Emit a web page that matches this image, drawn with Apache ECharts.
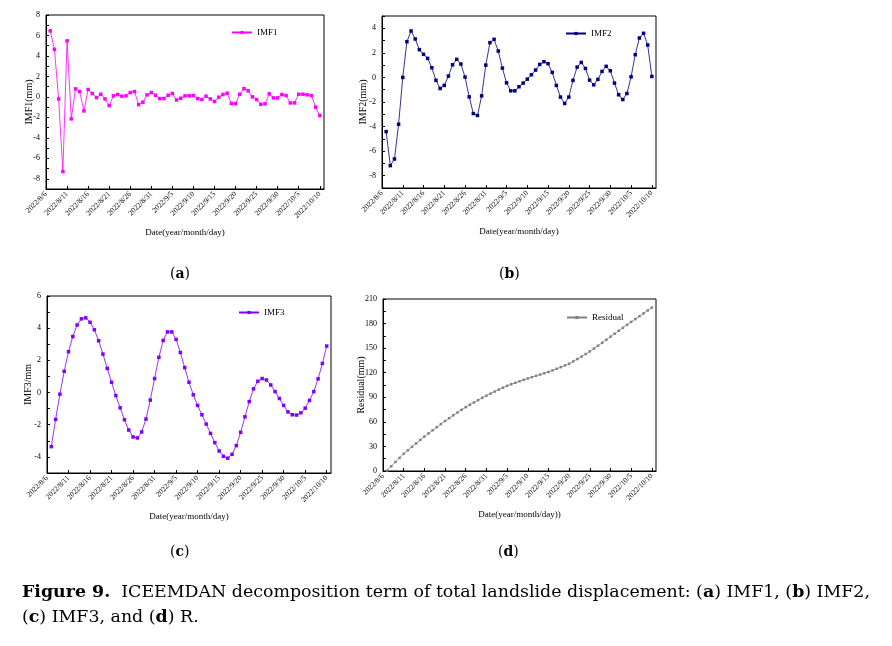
<!DOCTYPE html>
<html>
<head>
<meta charset="utf-8">
<script src="https://cdn.jsdelivr.net/npm/echarts@6/dist/echarts.min.js"></script>
<style>
  html, body { margin: 0; padding: 0; background: #fff; }
  #chart { width: 892px; height: 646px; }
</style>
</head>
<body>
<div id="chart"></div>
<script>
// axis runs 2022/8/6 .. 2022/10/11, observations 2022/8/7 .. 2022/10/10
const dates = []
for (let d = new Date(2022, 7, 6); d <= new Date(2022, 9, 11); d.setDate(d.getDate() + 1)) {
  dates.push(d.getFullYear() + '/' + (d.getMonth() + 1) + '/' + d.getDate())
}
const obsDates = dates.slice(1, 66)

const imf1 = [6.45, 4.65, -0.2, -7.3, 5.47, -2.15, 0.78, 0.52, -1.37, 0.72,
  0.33, -0.07, 0.26, -0.2, -0.85, 0.1, 0.23, 0.07, 0.1, 0.42,
  0.52, -0.75, -0.52, 0.2, 0.42, 0.16, -0.16, -0.16, 0.16, 0.33,
  -0.3, -0.13, 0.1, 0.1, 0.13, -0.16, -0.26, 0.07, -0.2, -0.45,
  -0.03, 0.23, 0.36, -0.65, -0.65, 0.26, 0.81, 0.59, 0, -0.26,
  -0.72, -0.68, 0.29, -0.1, -0.1, 0.23, 0.13, -0.59, -0.59, 0.26,
  0.26, 0.2, 0.13, -1.0, -1.82]

const imf2 = [-4.41, -7.18, -6.64, -3.81, 0, 2.91, 3.78, 3.13, 2.26, 1.88,
  1.55, 0.79, -0.24, -0.9, -0.65, 0.11, 1.03, 1.47, 1.09, 0.03,
  -1.58, -2.94, -3.1, -1.5, 1.0, 2.83, 3.1, 2.15, 0.76, -0.44,
  -1.09, -1.09, -0.76, -0.46, -0.14, 0.22, 0.6, 1.06, 1.28, 1.12,
  0.41, -0.65, -1.6, -2.12, -1.6, -0.24, 0.84, 1.22, 0.73, -0.22,
  -0.6, -0.16, 0.49, 0.9, 0.54, -0.46, -1.41, -1.8, -1.31, 0.05,
  1.85, 3.21, 3.59, 2.64, 0.08]

const imf3 = [-3.36, -1.67, -0.1, 1.32, 2.54, 3.48, 4.2, 4.58, 4.64, 4.37,
  3.9, 3.22, 2.39, 1.5, 0.64, -0.19, -0.95, -1.69, -2.33, -2.76,
  -2.82, -2.45, -1.65, -0.47, 0.87, 2.19, 3.24, 3.77, 3.77, 3.3,
  2.49, 1.55, 0.64, -0.14, -0.8, -1.38, -1.96, -2.54, -3.11, -3.63,
  -3.96, -4.08, -3.84, -3.3, -2.47, -1.51, -0.56, 0.23, 0.7, 0.87,
  0.78, 0.47, 0.06, -0.37, -0.8, -1.2, -1.38, -1.4, -1.26, -0.97,
  -0.49, 0.06, 0.85, 1.81, 2.89]

const residual = [0.5, 5.8, 11, 16, 21, 25.3, 29.5, 33.7, 37.9, 42,
  45.9, 49.7, 53.5, 57.3, 61, 64.5, 68, 71.4, 74.7, 78,
  80.9, 83.7, 86.5, 89.3, 92, 94.5, 97, 99.4, 101.7, 104,
  105.9, 107.7, 109.5, 111.3, 113, 114.6, 116.2, 117.8, 119.4, 121,
  122.9, 124.8, 126.8, 128.9, 131, 133.8, 136.7, 139.7, 142.8, 146,
  149.5, 153, 156.6, 160.3, 164, 167.6, 171.2, 174.8, 178.4, 182,
  185.5, 189, 192.5, 196, 199.5]

const FONT = 'Liberation Serif'
const CAP_FONT = 'DejaVu Serif'

const panels = [
  { name: 'IMF1', yName: 'IMF1(mm)', xName: 'Date(year/month/day)', values: imf1, color: '#ff00ff',
    min: -9, max: 8, step: 1, every: 2, size: 3.5, nameGap: 12,
    grid: { left: 46, top: 15, width: 278, height: 174 }, legend: { left: 226, top: 23 } },
  { name: 'IMF2', yName: 'IMF2(mm)', xName: 'Date(year/month/day)', values: imf2, color: '#000080',
    min: -9, max: 5, step: 1, every: 2, size: 3.5, nameGap: 14,
    grid: { left: 382, top: 16, width: 274, height: 172 }, legend: { left: 560, top: 24 } },
  { name: 'IMF3', yName: 'IMF3/mm', xName: 'Date(year/month/day)', values: imf3, color: '#8000ff',
    min: -5, max: 6, step: 1, every: 2, size: 3.5, nameGap: 14,
    grid: { left: 47, top: 296, width: 284, height: 177 }, legend: { left: 233, top: 303 } },
  { name: 'Residual', yName: 'Residual(mm)', xName: 'Date(year/month/day))', values: residual, color: '#808080',
    min: 0, max: 210, step: 15, every: 30, size: 2.5, nameGap: 17,
    grid: { left: 383, top: 299, width: 273, height: 172 }, legend: { left: 561, top: 308 } }
]

const showTick = (idx) => idx % 5 === 0 && idx <= 65

const capRich = {
  n: { fontFamily: CAP_FONT, fontSize: 17.4, fontWeight: 'normal', color: '#000' },
  b: { fontFamily: CAP_FONT, fontSize: 17.4, fontWeight: 'bold', color: '#000' }
}
const tagRich = {
  p: { fontFamily: CAP_FONT, fontSize: 14, fontWeight: 'normal', color: '#000' },
  b: { fontFamily: CAP_FONT, fontSize: 14, fontWeight: 'bold', color: '#000' }
}

const chart = echarts.init(document.getElementById('chart'))

const option = {
  animation: false,
  backgroundColor: '#fff',
  textStyle: { fontFamily: FONT, color: '#000' },
  grid: panels.map(p => Object.assign({ show: true, borderColor: '#000', borderWidth: 1 }, p.grid)),
  xAxis: panels.map((p, i) => ({
    gridIndex: i,
    type: 'category',
    data: dates,
    boundaryGap: false,
    axisLine: { onZero: false, lineStyle: { color: '#000', width: 1 } },
    axisTick: { inside: true, length: 3, interval: showTick, lineStyle: { color: '#000' } },
    axisLabel: { interval: showTick, rotate: 45, margin: 4, fontFamily: FONT, fontSize: 7.5, color: '#000' },
    splitLine: { show: false },
    name: p.xName,
    nameLocation: 'middle',
    nameGap: 39,
    nameMoveOverlap: false,
    nameTextStyle: { fontFamily: FONT, fontSize: 9, color: '#000' }
  })),
  yAxis: panels.map((p, i) => ({
    gridIndex: i,
    type: 'value',
    min: p.min,
    max: p.max,
    interval: p.step,
    axisLine: { show: true, onZero: false, lineStyle: { color: '#000', width: 1 } },
    axisTick: { show: true, inside: true, length: 3, lineStyle: { color: '#000' } },
    axisLabel: {
      formatter: v => (v % p.every === 0 ? String(v) : ''),
      margin: 6, fontFamily: FONT, fontSize: 8, color: '#000'
    },
    splitLine: { show: false },
    name: p.yName,
    nameLocation: 'middle',
    nameGap: p.nameGap,
    nameMoveOverlap: false,
    nameTextStyle: { fontFamily: FONT, fontSize: 10, color: '#000' }
  })),
  legend: panels.map(p => ({
    left: p.legend.left,
    top: p.legend.top,
    data: [p.name],
    itemWidth: 20,
    itemHeight: 4,
    textStyle: { fontFamily: FONT, fontSize: 9, color: '#000' }
  })),
  series: panels.map((p, i) => ({
    name: p.name,
    type: 'line',
    xAxisIndex: i,
    yAxisIndex: i,
    data: p.values.map((v, k) => [obsDates[k], v]),
    symbol: 'rect',
    symbolSize: p.size,
    showSymbol: true,
    showAllSymbol: true,
    lineStyle: { color: p.color, width: 0.8 },
    itemStyle: { color: p.color }
  })),
  title: [
    ['a', 165, 262], ['b', 494, 262], ['c', 165, 540], ['d', 493, 540]
  ].map(t => ({
    text: '{p|(}{b|' + t[0] + '}{p|)}',
    left: t[1],
    top: t[2],
    textStyle: { fontWeight: 'normal', rich: tagRich }
  })).concat([
    {
      text: '{b|Figure 9.}{n|  ICEEMDAN decomposition term of total landslide displacement: (}{b|a}{n|) IMF1, (}{b|b}{n|) IMF2,}',
      left: 17, top: 579,
      textStyle: { fontWeight: 'normal', rich: capRich }
    },
    {
      text: '{n|(}{b|c}{n|) IMF3, and (}{b|d}{n|) R.}',
      left: 17, top: 604,
      textStyle: { fontWeight: 'normal', rich: capRich }
    }
  ])
}

chart.setOption(option)
</script>
</body>
</html>
